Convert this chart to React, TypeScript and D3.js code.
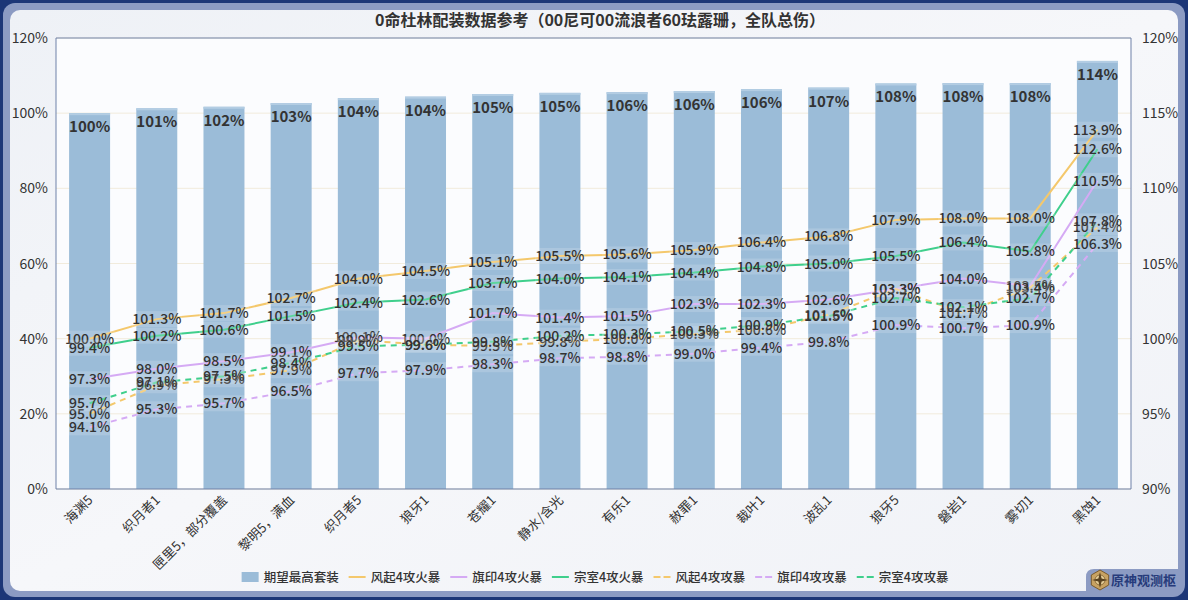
import React from 'react';
import * as d3 from 'd3';

const categories = ['海渊5', '织月者1', '匣里5，部分覆盖', '黎明5，满血', '织月者5', '狼牙1', '苍耀1', '静水/含光', '有乐1', '赦罪1', '裁叶1', '波乱1', '狼牙5', '磐岩1', '雾切1', '黑蚀1'];
const barValues = [100.0, 101.3, 101.7, 102.7, 104.0, 104.4, 105.1, 105.4, 105.6, 105.9, 106.4, 106.8, 107.9, 108.0, 108.0, 113.9];
const fengqiHuobao = [100.0, 101.3, 101.7, 102.7, 104.0, 104.5, 105.1, 105.5, 105.6, 105.9, 106.4, 106.8, 107.9, 108.0, 108.0, 113.9];
const qiyinHuobao = [97.3, 98.0, 98.5, 99.1, 100.1, 100.0, 101.7, 101.4, 101.5, 102.3, 102.3, 102.6, 103.3, 104.0, 103.5, 110.5];
const zongshiHuobao = [99.4, 100.2, 100.6, 101.5, 102.4, 102.6, 103.7, 104.0, 104.1, 104.4, 104.8, 105.0, 105.5, 106.4, 105.8, 112.6];
const fengqiGongbao = [95.0, 96.9, 97.3, 97.9, 99.9, 99.6, 99.5, 99.8, 100.0, 100.3, 100.6, 101.6, 103.3, 101.7, 103.4, 107.4];
const qiyinGongbao = [94.1, 95.3, 95.7, 96.5, 97.7, 97.9, 98.3, 98.7, 98.8, 99.0, 99.4, 99.8, 100.9, 100.7, 100.9, 106.3];
const zongshiGongbao = [95.7, 97.1, 97.5, 98.4, 99.5, 99.6, 99.8, 100.2, 100.3, 100.5, 100.9, 101.5, 102.7, 102.1, 102.7, 107.8];
const leftTicks = [0, 20, 40, 60, 80, 100, 120];
const rightTicks = [90, 95, 100, 105, 110, 115, 120];
const titleText = '0命杜林配装数据参考（00尼可00流浪者60珐露珊，全队总伤）';
const barName = '期望最高套装';

const YELLOW = '#f4c86c';
const PURPLE = '#d5aaf4';
const GREEN = '#3fcf8c';
const BAR = '#9bbcd8';

const lineSeries = [
  { name: '风起4攻火暴', data: fengqiHuobao, color: YELLOW, dashed: false },
  { name: '旗印4攻火暴', data: qiyinHuobao, color: PURPLE, dashed: false },
  { name: '宗室4攻火暴', data: zongshiHuobao, color: GREEN, dashed: false },
  { name: '风起4攻攻暴', data: fengqiGongbao, color: YELLOW, dashed: true },
  { name: '旗印4攻攻暴', data: qiyinGongbao, color: PURPLE, dashed: true },
  { name: '宗室4攻攻暴', data: zongshiGongbao, color: GREEN, dashed: true },
];

const FONT = '"Noto Sans CJK SC", "Noto Sans", sans-serif';

function textWidth(s: string, size: number) {
  let w = 0;
  for (const ch of s) {
    if (/[0-9]/.test(ch)) w += 0.57 * size;
    else if (ch === '.') w += 0.28 * size;
    else if (ch === '%') w += 0.86 * size;
    else if (ch === '/') w += 0.4 * size;
    else if (ch.charCodeAt(0) > 255) w += size;
    else w += 0.55 * size;
  }
  return w;
}

export default function App() {
  const W = 1188, H = 600;
  const left = 56, right = 1131, top = 38, bottom = 489;
  const x = d3.scaleBand<string>().domain(categories).range([left, right]).paddingInner(0.39).paddingOuter(0.195);
  const yL = d3.scaleLinear().domain([0, 120]).range([bottom, top]);
  const yR = d3.scaleLinear().domain([90, 120]).range([bottom, top]);
  const cx = (c: string) => (x(c) as number) + x.bandwidth() / 2;
  const line = d3.line<number>().x((_, i) => cx(categories[i])).y((v) => yR(v));

  const legendItems = [{ name: barName, color: BAR, type: 'bar', dashed: false }, ...lineSeries.map((s) => ({ name: s.name, color: s.color, type: 'line', dashed: s.dashed }))];
  const swW = 17, gapSw = 5, gapItem = 10, lfs = 12.5;
  const widths = legendItems.map((it) => swW + gapSw + textWidth(it.name, lfs));
  const totalW = widths.reduce((a, b) => a + b, 0) + gapItem * (legendItems.length - 1);
  let lx = 595 - totalW / 2;
  const legendPos = widths.map((w) => { const p = lx; lx += w + gapItem; return p; });
  const ly = 577;
  const LFS = 14;

  return (
    <svg width={W} height={H} style={{ position: 'absolute', left: 0, top: 0, fontFamily: FONT }}>
      <defs>
        <linearGradient id="panelGrad" x1="0" y1="0" x2="1" y2="1">
          <stop offset="0" stopColor="#eef1f6" />
          <stop offset="0.5" stopColor="#f6f7fa" />
          <stop offset="1" stopColor="#f0f2f7" />
        </linearGradient>
      </defs>
      <rect x={0} y={0} width={W} height={H} fill="#1c3677" />
      <rect x={3} y={3} width={W - 6} height={H - 6} rx={12} fill="#8c9bc3" />
      <rect x={10} y={10} width={W - 20} height={H - 19} rx={10} fill="url(#panelGrad)" />
      <path d={`M1086,${H - 9} L1086,577 Q1086,569 1094,569 L1178,569 L1178,${H - 9} Z`} fill="#8c9bc3" />
      <g transform="translate(1100,580)">
        <polygon points="0,-10 8.7,-5 8.7,5 0,10 -8.7,5 -8.7,-5" fill="#c8a263" stroke="#7a5a2c" strokeWidth={1} />
        <circle r={5} fill="#e9d19b" stroke="#7a5a2c" strokeWidth={0.8} />
        <polygon points="0,-8 1.6,-1.6 8,0 1.6,1.6 0,8 -1.6,1.6 -8,0 -1.6,-1.6" fill="#5a4220" />
      </g>
      <text x={1111} y={585} fontSize={13} fontWeight="bold" fill="#273b7b">原神观测枢</text>

      <text x={600} y={26} textAnchor="middle" fontSize={16} fontWeight="bold" fill="#333">{titleText}</text>

      <rect x={left} y={top} width={right - left} height={bottom - top} fill="#fbfcfe" />
      {leftTicks.map((t) => (
        <line key={'g' + t} x1={left} x2={right} y1={yL(t)} y2={yL(t)} stroke="#f1ebdc" strokeWidth={1} />
      ))}

      {categories.map((c, i) => (
        <g key={'b' + c}>
          <rect x={x(c)} y={yL(barValues[i])} width={x.bandwidth()} height={bottom - yL(barValues[i])} fill={BAR} />
          <rect x={x(c)} y={yL(barValues[i])} width={x.bandwidth()} height={2} fill="#b3cde3" />
        </g>
      ))}
      {categories.map((c, i) => (
        <text key={'bl' + c} x={cx(c)} y={yL(barValues[i]) + 19} textAnchor="middle" fontSize={15} fontWeight="bold" fill="#333">
          {Math.round(barValues[i]) + '%'}
        </text>
      ))}

      <path d={`M${left},${bottom} L${left},${top} L${right},${top} L${right},${bottom}`} fill="none" stroke="#6f81a8" strokeWidth={1} />
      <line x1={left} x2={right} y1={bottom} y2={bottom} stroke="#6f81a8" strokeWidth={1} />

      {leftTicks.map((t) => (
        <text key={'lt' + t} x={48} y={yL(t) + 5} textAnchor="end" fontSize={14} fill="#333">{t + '%'}</text>
      ))}
      {rightTicks.map((t) => (
        <text key={'rt' + t} x={1142} y={yR(t) + 5} textAnchor="start" fontSize={14} fill="#333">{t + '%'}</text>
      ))}

      {categories.map((c) => (
        <text key={'xl' + c} transform={`translate(${cx(c) + 4},${bottom + 12}) rotate(-45)`} textAnchor="end" fontSize={13} fill="#333">{c}</text>
      ))}

      {lineSeries.map((s) => (
        <path key={'l' + s.name} d={line(s.data) || ''} fill="none" stroke={s.color} strokeWidth={2} strokeDasharray={s.dashed ? '6,5' : undefined} />
      ))}

      {lineSeries.map((s) => (
        <g key={'ll' + s.name}>
          {s.data.map((v, i) => {
            const label = v.toFixed(1) + '%';
            const tw = textWidth(label, LFS);
            const px = cx(categories[i]);
            const py = yR(v);
            return (
              <g key={i}>
                <rect x={px - tw / 2 - 1} y={py - 8} width={tw + 2} height={16} fill="#ffffff" fillOpacity={0.16} />
                <text x={px} y={py + 5} textAnchor="middle" fontSize={LFS} fontWeight={500} fill="#333">{label}</text>
              </g>
            );
          })}
        </g>
      ))}

      {legendItems.map((it, i) => {
        const px = legendPos[i];
        return (
          <g key={'lg' + it.name}>
            {it.type === 'bar' ? (
              <rect x={px} y={ly - 5} width={swW} height={10} fill={it.color} />
            ) : it.dashed ? (
              <g>
                <line x1={px} x2={px + 7} y1={ly} y2={ly} stroke={it.color} strokeWidth={2} />
                <line x1={px + 10} x2={px + 17} y1={ly} y2={ly} stroke={it.color} strokeWidth={2} />
              </g>
            ) : (
              <line x1={px} x2={px + swW} y1={ly} y2={ly} stroke={it.color} strokeWidth={2} />
            )}
            <text x={px + swW + gapSw} y={ly + 4.5} fontSize={lfs} fontWeight={500} fill="#333">{it.name}</text>
          </g>
        );
      })}
    </svg>
  );
}
